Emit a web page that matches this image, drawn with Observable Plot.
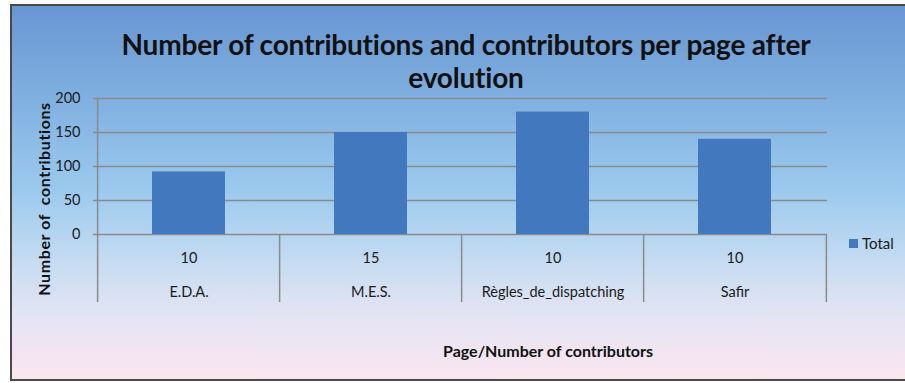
<!DOCTYPE html>
<html>
<head>
<meta charset="utf-8">
<script src="https://cdn.jsdelivr.net/npm/d3@7"></script>
<script src="https://cdn.jsdelivr.net/npm/@observablehq/plot@0.6"></script>
<style>
  html, body { margin: 0; padding: 0; background: #ffffff; }
  #wrap { position: relative; width: 905px; height: 383px; overflow: hidden; font-family: Lato, "Open Sans", sans-serif; color: #1a1a1a; }
  #frame { position: absolute; left: 10px; top: 4px; width: 900px; height: 377px; box-sizing: border-box;
           border-left: 2px solid #4a4a4a; border-top: 2px solid #4a4a4a; border-bottom: 2px solid #4a4a4a;
           background: linear-gradient(to bottom, #6896d2 0%, #80b0e0 25%, #9ccaee 50%, #c4dbf1 68%, #e2e4f3 82%, #fbe6ef 100%); }
  #title { position: absolute; left: 0; width: 932px; top: 28px; text-align: center; font-weight: 700; font-size: 28px; line-height: 33px; letter-spacing: -0.2px; color: #111; }
  #ylabel { position: absolute; left: 43px; top: 199px; transform: translate(-50%, -50%) rotate(-90deg); white-space: pre; font-weight: 700; font-size: 16px; letter-spacing: 0.6px; color: #111; }
  #xlabel { position: absolute; left: 548px; top: 350px; transform: translate(-50%, -50%); white-space: pre; font-weight: 700; font-size: 16px; color: #111; }
  #chart { position: absolute; left: 0; top: 0; }
  #legend { position: absolute; left: 849px; top: 234px; font-size: 15px; display: flex; align-items: center; }
  #legend .sw { width: 9px; height: 9px; background: #4178be; margin-right: 4px; }
</style>
</head>
<body>
<div id="wrap">
  <div id="frame"></div>
  <div id="title">Number of contributions and contributors per page after<br>evolution</div>
  <div id="chart"></div>
  <div id="ylabel">Number of  contributions</div>
  <div id="xlabel">Page/Number of contributors</div>
  <div id="legend"><span class="sw"></span><span>Total</span></div>
</div>
<script>
const pages = ["E.D.A.", "M.E.S.", "Règles_de_dispatching", "Safir"];
const contributions = [92, 150, 180, 140];
const contributors = [10, 15, 10, 10];
const yTicks = [0, 50, 100, 150, 200];

const data = pages.map((p, i) => ({page: p, total: contributions[i], contributors: contributors[i]}));

const W = 905, H = 383;
const mL = 96, mR = 78, mT = 98, mB = 149;
const step = (W - mL - mR) / pages.length;

const chart = Plot.plot({
  width: W,
  height: H,
  marginLeft: mL,
  marginRight: mR,
  marginTop: mT,
  marginBottom: mB,
  style: {background: "transparent", fontFamily: "Lato, 'Open Sans', sans-serif", fontSize: "14px", color: "#1a1a1a", overflow: "visible"},
  x: {domain: pages, paddingInner: 0.6, paddingOuter: 0.3, axis: null},
  y: {domain: [0, 200], ticks: yTicks, axis: null},
  marks: [
    Plot.gridY(yTicks, {stroke: "#8a8a8a", strokeOpacity: 1, strokeWidth: 1.5, insetLeft: -3}),
    Plot.axisY(yTicks, {tickSize: 0, tickPadding: 16, fontSize: 14.5, label: null}),
    Plot.barY(data, {x: "page", y: "total", fill: "#4178be"}),
    // category separators
    Plot.ruleX(data.slice(0, 1), {x: "page", dx: -step / 2, y1: 200, y2: -100, stroke: "#8a8a8a", strokeWidth: 1.5}),
    Plot.ruleX(data.slice(1), {x: "page", dx: -step / 2, y1: 0, y2: -100, stroke: "#8a8a8a", strokeWidth: 1.5}),
    Plot.ruleX(data.slice(-1), {x: "page", dx: step / 2, y1: 0, y2: -100, stroke: "#8a8a8a", strokeWidth: 1.5}),
    Plot.text(data, {x: "page", y: 0, dy: 24, text: d => String(d.contributors), fontSize: 14.5, fill: "#1a1a1a"}),
    Plot.text(data, {x: "page", y: 0, dy: 58, text: "page", fontSize: 14.5, fill: "#1a1a1a"})
  ]
});
document.getElementById("chart").appendChild(chart);
</script>
</body>
</html>
